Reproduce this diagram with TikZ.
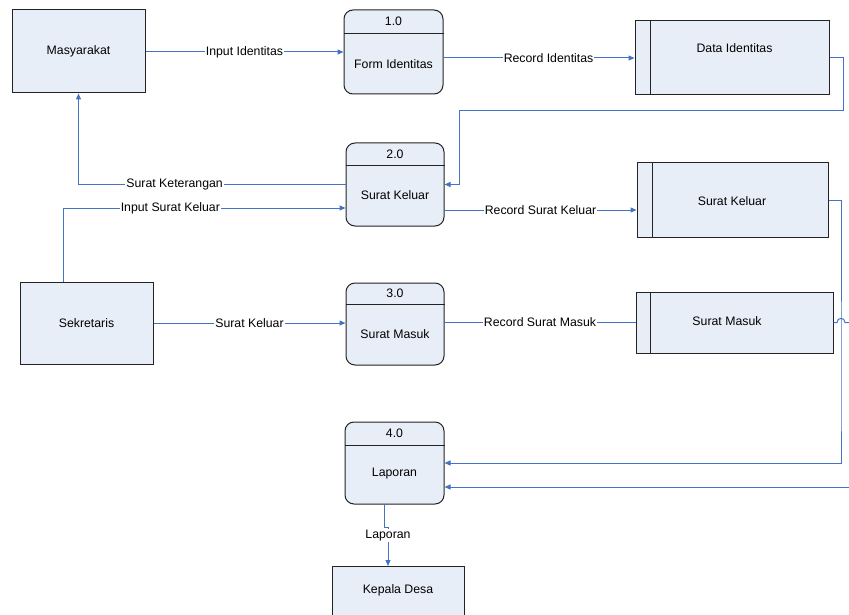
\documentclass[tikz,border=0pt]{standalone}
\usepackage{fontspec}
\setmainfont{Liberation Sans}
\usetikzlibrary{arrows.meta, positioning, calc}
\definecolor{cFill}{RGB}{232,238,248}
\definecolor{cFlow}{RGB}{68,114,196}
\definecolor{cEdge}{RGB}{35,35,35}
\tikzset{
	entity/.style={rectangle, draw=cEdge, line width=1pt, fill=cFill, minimum width=133pt, minimum height=83pt},
	proc/.style  ={rectangle, rounded corners=9pt, draw=cEdge, line width=1pt, fill=cFill, minimum width=98pt, minimum height=83pt},
	store/.style ={rectangle, draw=cEdge, line width=1pt, fill=cFill, minimum width=193pt, minimum height=74pt},
	divider/.style={draw=cEdge, line width=0.9pt},
	flow/.style  ={-{Triangle[length=6pt,width=5pt]}, draw=cFlow, line width=1pt},
	link/.style  ={draw=cFlow, line width=1pt},
	lbl/.style   ={fill=white, inner sep=1pt},
}

\begin{document}
\begin{tikzpicture}[x=1pt, y=-1pt, every node/.style={font=\fontsize{12.3}{14}\selectfont}]
	\clip (0,0) rectangle (849,615);
	% external entities
	\node[entity] (mas) at (78.5,51.5) {Masyarakat};
	\node[entity, minimum height=82pt] (sek) at (86.5,323) {Sekretaris};
	\node[entity, minimum width=132pt, minimum height=56pt, anchor=north] (kd) at (398,566) {};
	\node (kdt) at (398,590) {Kepala Desa};
	% processes
	\node[proc, minimum width=99pt, minimum height=84pt] (p1) at (393.5,52) {};
	\node (p1n) at ([yshift=-12pt]p1.north) {1.0};
	\draw[divider] ([yshift=-24pt]p1.north west) -- ([yshift=-24pt]p1.north east);
	\node (p1t) at ([yshift=-12pt]p1.center) {Form Identitas};
	\node[proc] (p2) at (395,184.5) {};
	\node (p2n) at ([yshift=-11.5pt]p2.north) {2.0};
	\draw[divider] ([yshift=-23pt]p2.north west) -- ([yshift=-23pt]p2.north east);
	\node (p2t) at ([yshift=-11pt]p2.center) {Surat Keluar};
	\node[proc, minimum height=82pt] (p3) at (395,324) {};
	\node (p3n) at ([yshift=-11pt]p3.north) {3.0};
	\draw[divider] ([yshift=-22pt]p3.north west) -- ([yshift=-22pt]p3.north east);
	\node (p3t) at ([yshift=-10pt]p3.center) {Surat Masuk};
	\node[proc, minimum width=99pt, minimum height=82pt] (p4) at (394.5,463) {};
	\node (p4n) at ([yshift=-12pt]p4.north) {4.0};
	\draw[divider] ([yshift=-24pt]p4.north west) -- ([yshift=-24pt]p4.north east);
	\node (p4t) at ([yshift=-11pt]p4.center) {Laporan};
	% data stores
	\node[store, minimum width=194pt] (d1) at (732,58) {};
	\draw[divider] ([xshift=16pt]d1.north west) -- ([xshift=16pt]d1.south west);
	\node (d1t) at (734.5,48) {Data Identitas};
	\node[store, minimum width=191pt] (d2) at (732.5,200) {};
	\draw[divider] ([xshift=16pt]d2.north west) -- ([xshift=16pt]d2.south west);
	\node (d2t) at (732,201) {Surat Keluar};
	\node[store, minimum width=197pt, minimum height=61pt] (d3) at (734.5,322.5) {};
	\draw[divider] ([xshift=15pt]d3.north west) -- ([xshift=15pt]d3.south west);
	\node (d3t) at (727,321) {Surat Masuk};
	% bend points of the long flows
	\coordinate (k1) at (843,111);
	\coordinate (k2) at (459,111);
	\coordinate (k3) at (841,400);
	\coordinate (e3) at (849,322.5);
	\coordinate (e4) at (849,487);
	% flows
	\draw[flow] (mas.east |- p1) -- (p1.west) node[lbl, midway] {Input Identitas};
	\draw[flow] (p1.east |- d1) -- (d1.west) node[lbl, pos=0.55] {Record Identitas};
	\draw[flow] (d1.east) -| (k1) -- (k2) |- (p2.east);
	\draw[flow] (p2.west) -| (mas.south) node[lbl, pos=0.32] {Surat Keterangan};
	\draw[flow] ([xshift=-23.5pt]sek.north) |- ([yshift=-23.5pt]p2.west) node[lbl, pos=0.69] {Input Surat Keluar};
	\draw[flow] ([yshift=-25.5pt]p2.east) -- (d2.west |- 0,210) node[lbl, midway] {Record Surat Keluar};
	\draw[flow] (d2.east) -| (k3) |- (p4.east);
	\draw[flow] (sek.east) -- (p3.west |- sek) node[lbl, midway] {Surat Keluar};
	\draw[link] (p3.east |- d3) -- (d3.west) node[lbl, midway] {Record Surat Masuk};
	\draw[link] (d3.east) -- (837,322.5) .. controls (837,317) and (845,317) .. (845,322.5) -- (e3);
	\draw[flow] (e4) -- (p4.east |- e4);
	\draw[flow] ([xshift=-10.5pt]p4.south) -- ++(0,23) -| ([xshift=-10pt]kd.north) node[lbl, pos=0.6] {Laporan};
\end{tikzpicture}
\end{document}
